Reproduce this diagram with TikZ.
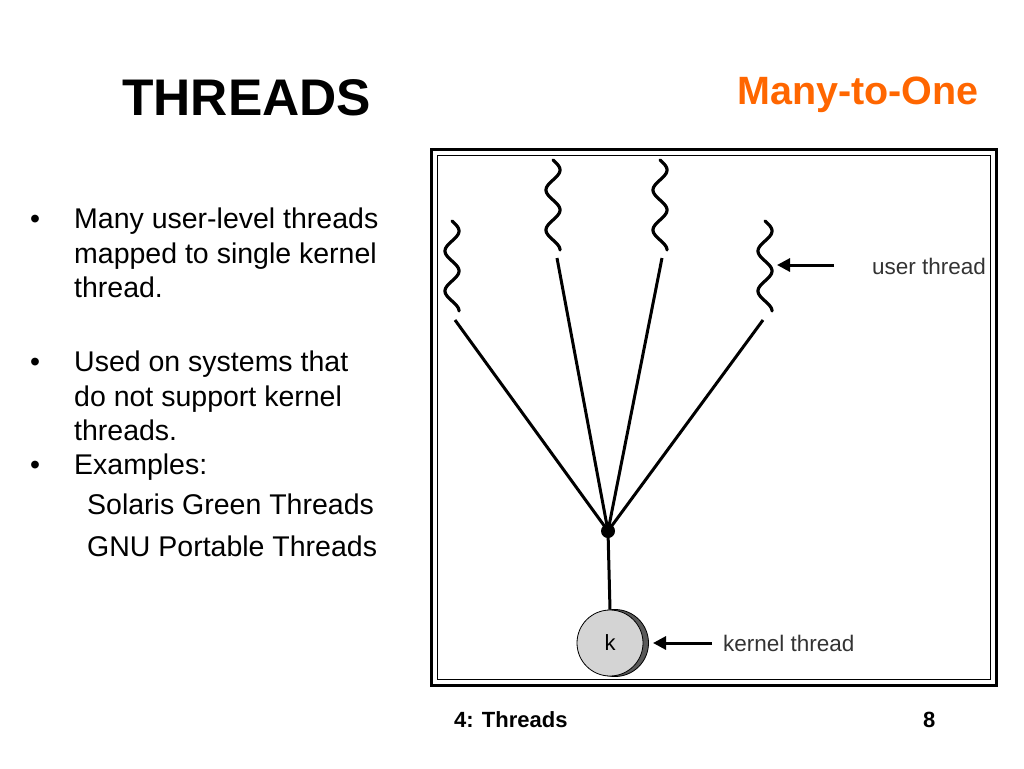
\documentclass[tikz,border=0pt]{standalone}
\usepackage{fontspec}
\setmainfont{Liberation Sans}
\usetikzlibrary{arrows.meta}
\definecolor{titleorange}{RGB}{255,102,0}
\begin{document}
\begin{tikzpicture}[x=1pt,y=-1pt,
    txt/.style   = {inner sep=0pt, anchor=base west},
    lbl/.style   = {txt, font=\fontsize{22.5}{26}\selectfont, text=black!80},
    link/.style  = {line width=3pt},
    point/.style = {line width=3pt, -{Triangle[length=13pt,width=13pt]}},
    wave/.style  = {line width=3.2pt, line cap=round},
                    ]
\useasboundingbox (0,0) rectangle (1024,768);
% slide texts
\node[txt, font=\bfseries\fontsize{51.5}{56}\selectfont] (title) at (122,115) {THREADS};
\node[txt, font=\bfseries\fontsize{39.5}{44}\selectfont, text=titleorange] (sub) at (737,104) {Many-to-One};
\node[anchor=north west, inner sep=0pt, font=\fontsize{28.5}{34.3}\selectfont, align=left] (body) at (30,208)
  {\makebox[44pt][l]{•}Many user-level threads\\
   \hspace*{44pt}mapped to single kernel\\
   \hspace*{44pt}thread.\\[40pt]
   \makebox[44pt][l]{•}Used on systems that\\
   \hspace*{44pt}do not support kernel\\
   \hspace*{44pt}threads.\\
   \makebox[44pt][l]{•}Examples:\\[6pt]
   \hspace*{57pt}Solaris Green Threads\\[7pt]
   \hspace*{57pt}GNU Portable Threads};
\node[txt, font=\bfseries\fontsize{22}{26}\selectfont] (foot) at (454,727) {4: Threads};
\node[txt, font=\bfseries\fontsize{22}{26}\selectfont] (page) at (923,727) {8};
% frame
\draw[line width=3pt] (431,149) rectangle (996,685);
\draw[line width=0.8pt] (437,155) rectangle (990,679);
% user threads
\foreach \n/\x/\y in {1/452/221, 2/553/160, 3/660/160, 4/765/221}
  \draw[wave] plot[variable=\s, domain=0:2.25, samples=80, smooth]
     ({\x+7*sin(\s*360)}, {\y+\s*40});
\coordinate (j) at (608,531);
\draw[link] (455,320) coordinate (e1) -- (j);
\draw[link] (557,258) coordinate (e2) -- (j);
\draw[link] (662,258) coordinate (e3) -- (j);
\draw[link] (763,320) coordinate (e4) -- (j);
\fill (j) circle (7);
% kernel thread
\fill[black!65, draw=black, line width=0.8pt] (615,643) circle (33.5);
\node[circle, draw, line width=0.8pt, fill=black!17, minimum size=66pt, inner sep=0pt,
      font=\fontsize{22}{26}\selectfont] (k) at (610,643) {k};
\draw[link] (j) -- (k.north);
% labels
\node[lbl] (ut) at (872,274) {user thread};
\node[lbl] (kt) at (723,651) {kernel thread};
\draw[point] (834,265) -- (777,265);
\draw[point] (712,643) -- (653,643);
\end{tikzpicture}
\end{document}
